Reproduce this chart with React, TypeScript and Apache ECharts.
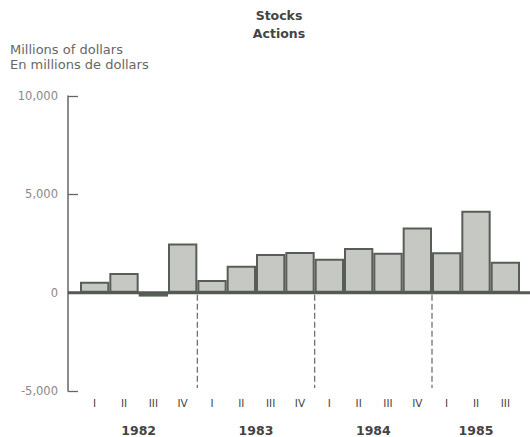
import React, { useEffect, useRef } from "react";
import * as echarts from "echarts";

const years = ["1982", "1983", "1984", "1985"];
const quartersPerYear = [4, 4, 4, 3];
const quarterNames = ["I", "II", "III", "IV"];
const stocks = [550, 1000, -200, 2500, 650, 1370, 1960, 2070, 1730, 2270, 2030, 3310, 2050, 4160, 1570];
const yMin = -5000;
const yMax = 10000;
const yInterval = 5000;
const titleLines = ["Stocks", "Actions"];
const unitLines = ["Millions of dollars", "En millions de dollars"];

const FONT = '"DejaVu Sans", "Liberation Sans", sans-serif';

export default function App() {
  const ref = useRef<HTMLDivElement>(null);

  useEffect(() => {
    document.body.style.margin = "0";
    if (!ref.current) return;
    const chart = echarts.init(ref.current, null, { renderer: "svg" });

    const categories: string[] = [];
    const quarterLabel: string[] = [];
    const yearStarts: number[] = [];
    let pos = 0;
    years.forEach((y, yi) => {
      yearStarts.push(pos);
      for (let q = 0; q < quartersPerYear[yi]; q++) {
        categories.push(y + " " + quarterNames[q]);
        quarterLabel.push(quarterNames[q]);
      }
      pos += quartersPerYear[yi];
    });
    const total = pos;
    const halfCats: string[] = [];
    const halfLabels: string[] = [];
    for (let i = 0; i <= total * 2; i++) {
      halfCats.push(String(i));
      halfLabels.push("");
    }
    years.forEach((y, yi) => {
      halfLabels[2 * yearStarts[yi] + quartersPerYear[yi]] = y;
    });
    const separators = yearStarts.slice(1).map((s) => [s, 0]);

    const yAxisOffset = 12;

    const fmt = (v: number) => {
      const s = Math.abs(v).toString().replace(/\B(?=(\d{3})+(?!\d))/g, ",");
      return (v < 0 ? "-" : "") + s;
    };

    const textStyle = (text: string, bold: boolean, center: boolean, color: string) => ({
      text,
      fontSize: 12.5,
      fontWeight: bold ? "bold" : "normal",
      fontFamily: FONT,
      fill: color,
      align: center ? "center" : "left",
      verticalAlign: "middle",
      textAlign: center ? "center" : "left",
      textVerticalAlign: "middle",
    });

    chart.setOption({
      animation: false,
      backgroundColor: "#ffffff",
      graphic: [
        { type: "text", x: 279, y: 15, style: textStyle(titleLines[0], true, true, "#444") },
        { type: "text", x: 279, y: 33, style: textStyle(titleLines[1], true, true, "#444") },
        { type: "text", x: 10, y: 49, style: { ...textStyle(unitLines[0], false, false, "#666"), fontSize: 13 } },
        { type: "text", x: 10, y: 64, style: { ...textStyle(unitLines[1], false, false, "#666"), fontSize: 13 } },
      ],
      grid: { left: 80, right: 10, top: 96, bottom: 46, containLabel: false },
      xAxis: [
        {
          type: "category",
          data: categories,
          boundaryGap: true,
          position: "bottom",
          axisLine: { show: false },
          axisTick: { show: false },
          splitLine: { show: false },
          axisLabel: {
            interval: 0,
            margin: 6,
            fontSize: 10.5,
            fontFamily: FONT,
            color: "#444",
            formatter: (_v: string, i: number) => quarterLabel[i],
          },
        },
        {
          type: "category",
          data: halfCats,
          boundaryGap: false,
          position: "bottom",
          axisLine: { show: false },
          axisTick: { show: false },
          splitLine: { show: false },
          axisLabel: {
            interval: 0,
            margin: 33,
            fontSize: 12.5,
            fontWeight: "bold",
            fontFamily: FONT,
            color: "#444",
            formatter: (_v: string, i: number) => halfLabels[i],
          },
        },
      ],
      yAxis: {
        type: "value",
        min: yMin,
        max: yMax,
        interval: yInterval,
        offset: yAxisOffset,
        axisLine: { show: true, lineStyle: { color: "#666", width: 1.5 } },
        axisTick: { show: true, inside: true, length: 10, lineStyle: { color: "#666", width: 1.3 } },
        splitLine: { show: false },
        axisLabel: {
          margin: 10,
          fontSize: 11.5,
          fontFamily: FONT,
          color: "#888",
          formatter: (v: number) => fmt(v),
        },
      },
      series: [
        {
          type: "bar",
          data: stocks,
          xAxisIndex: 0,
          barCategoryGap: "0%",
          itemStyle: { color: "#c6c9c3", borderColor: "#585e57", borderWidth: 2 },
          z: 2,
        },
        {
          type: "custom",
          xAxisIndex: 0,
          clip: false,
          data: separators,
          encode: { x: 0, y: 1 },
          z: 3,
          renderItem: (_params: any, api: any) => {
            const idx = api.value(0);
            const top = api.coord([idx, 0]);
            const bottom = api.coord([idx, yMin]);
            const half = api.size([1, 0])[0] / 2;
            const x = top[0] - half;
            return {
              type: "line",
              shape: { x1: x, y1: top[1] + 2, x2: x, y2: bottom[1] - 3 },
              style: { stroke: "#666", lineWidth: 1.2, lineDash: [6, 3] },
            };
          },
        },
        {
          type: "custom",
          xAxisIndex: 0,
          clip: false,
          data: [[0, 0]],
          encode: { x: 0, y: 1 },
          z: 5,
          renderItem: (params: any, api: any) => {
            const cs = params.coordSys;
            const y = api.coord([0, 0])[1];
            return {
              type: "line",
              shape: { x1: cs.x - yAxisOffset, y1: y, x2: api.getWidth(), y2: y },
              style: { stroke: "#555a54", lineWidth: 3 },
            };
          },
        },
      ],
    });

    return () => {
      chart.dispose();
    };
  }, []);

  return <div ref={ref} style={{ width: 530, height: 437 }} />;
}
